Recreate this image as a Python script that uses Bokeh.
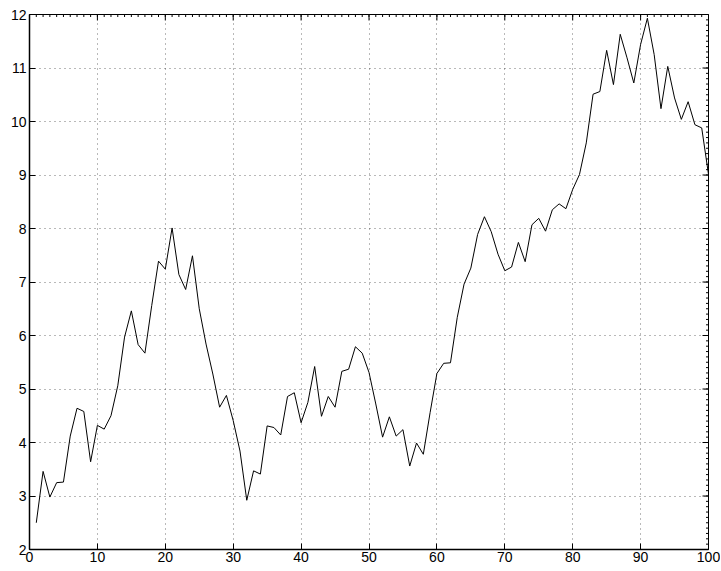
import math
from bokeh.plotting import figure
from bokeh.models import LinearAxis, Range1d, FixedTicker
from bokeh.embed import file_html
from bokeh.resources import INLINE

x_vals = list(range(1, 101))
y_vals = [
    2.50, 3.46, 2.98, 3.25, 3.26, 4.12, 4.64, 4.58, 3.64, 4.32,
    4.25, 4.50, 5.06, 5.97, 6.46, 5.83, 5.67, 6.56, 7.39, 7.24,
    8.01, 7.14, 6.86, 7.49, 6.50, 5.84, 5.28, 4.66, 4.88, 4.41,
    3.84, 2.92, 3.47, 3.41, 4.31, 4.28, 4.14, 4.86, 4.93, 4.37,
    4.75, 5.42, 4.49, 4.86, 4.66, 5.33, 5.37, 5.79, 5.67, 5.31,
    4.72, 4.10, 4.48, 4.12, 4.24, 3.56, 3.99, 3.78, 4.56, 5.29,
    5.48, 5.49, 6.34, 6.96, 7.26, 7.89, 8.22, 7.94, 7.52, 7.21,
    7.28, 7.74, 7.38, 8.07, 8.19, 7.95, 8.35, 8.46, 8.37, 8.73,
    9.01, 9.60, 10.51, 10.56, 11.33, 10.69, 11.63, 11.19, 10.72, 11.44,
    11.93, 11.25, 10.24, 11.03, 10.44, 10.04, 10.37, 9.94, 9.88, 9.01,
]
x_ticks = [0, 10, 20, 30, 40, 50, 60, 70, 80, 90, 100]
y_ticks = [2, 3, 4, 5, 6, 7, 8, 9, 10, 11, 12]
x_minor = [float(v) for v in range(0, 101)]
y_minor = [2 + i * 0.1 for i in range(101)]

FONT = "Liberation Sans"
X0, X1, Y0, Y1 = 0, 100, 2, 12

p = figure(width=720, height=570, output_backend="svg", toolbar_location=None,
           x_range=Range1d(X0, X1), y_range=Range1d(Y0, Y1),
           min_border_left=29, min_border_right=12, min_border_top=14, min_border_bottom=21,
           x_axis_location=None, y_axis_location=None)
p.background_fill_color = "white"
p.border_fill_color = "white"
p.outline_line_color = "black"
p.outline_line_width = 1

def style_axis(ax):
    ax.axis_line_color = "black"
    ax.axis_line_width = 1.5
    ax.major_tick_in = 6
    ax.major_tick_out = 0
    ax.major_tick_line_color = "black"
    ax.minor_tick_line_color = None
    ax.major_label_text_font = FONT
    ax.major_label_text_font_size = "14px"
    ax.major_label_text_color = "black"
    ax.major_label_standoff = 3

xb = LinearAxis(ticker=FixedTicker(ticks=x_ticks))
style_axis(xb)
xb.major_label_standoff = 2
p.add_layout(xb, "below")

yl = LinearAxis(ticker=FixedTicker(ticks=y_ticks))
style_axis(yl)
p.add_layout(yl, "left")

p.xgrid.ticker = FixedTicker(ticks=x_ticks)
p.ygrid.ticker = FixedTicker(ticks=y_ticks)
for g in (p.xgrid, p.ygrid):
    g.grid_line_color = "black"
    g.grid_line_dash = "1 4"
    g.grid_line_width = 1
    g.grid_line_alpha = 0.55

# top and right ticks (inward), drawn as dash markers clipped by the frame
p.scatter(x_ticks, [Y1] * len(x_ticks), marker="dash", size=12, angle=math.pi / 2,
          line_color="black", line_width=1)
p.scatter([X1] * len(y_ticks), y_ticks, marker="dash", size=12,
          line_color="black", line_width=1)
p.scatter(x_minor, [Y1] * len(x_minor), marker="dash", size=5, angle=math.pi / 2,
          line_color="black", line_width=1)
p.scatter([X1] * len(y_minor), y_minor, marker="dash", size=5,
          line_color="black", line_width=1)

p.line(x_vals, y_vals, line_color="black", line_width=1)

open("out.html", "w").write(file_html(p, INLINE))
